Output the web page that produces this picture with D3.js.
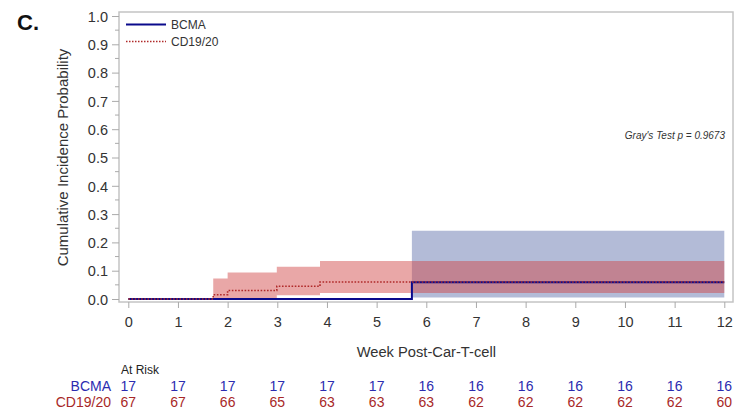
<!DOCTYPE html>
<html>
<head>
<meta charset="utf-8">
<script src="https://cdn.jsdelivr.net/npm/d3@7"></script>
<style>
  body { margin: 0; background: #fff; }
  text { font-family: "Liberation Sans", Arial, sans-serif; }
</style>
</head>
<body>
<svg width="748" height="418"></svg>
<script>
// Data
const weeks = [0, 1, 2, 3, 4, 5, 6, 7, 8, 9, 10, 11, 12];
const yTicks = [0, 0.1, 0.2, 0.3, 0.4, 0.5, 0.6, 0.7, 0.8, 0.9, 1.0];

const bcmaTimes = [0, 5.71, 12];
const bcmaEst = [0, 0.059, 0.059];
const bcmaLower = [0, 0.005, 0.005];
const bcmaUpper = [0, 0.241, 0.241];

const cdTimes = [0, 1.71, 2.0, 2.99, 3.86, 12];
const cdEst = [0, 0.015, 0.030, 0.045, 0.060, 0.060];
const cdLower = [0, 0, 0, 0.013, 0.021, 0.021];
const cdUpper = [0, 0.072, 0.094, 0.114, 0.134, 0.134];

const bcmaRisk = [17, 17, 17, 17, 17, 17, 16, 16, 16, 16, 16, 16, 16];
const cdRisk = [67, 67, 66, 65, 63, 63, 63, 62, 62, 62, 62, 62, 60];

const blue = "#0a0a8c";
const red = "#b02a2a";

const svg = d3.select("svg");
const frame = { left: 119, right: 733, top: 12, bottom: 302 };

const x = d3.scaleLinear().domain([0, 12]).range([128.3, 724.3]);
const y = d3.scaleLinear().domain([0, 1]).range([299, 16]);

// Frame
svg.append("rect")
  .attr("x", frame.left).attr("y", frame.top)
  .attr("width", frame.right - frame.left).attr("height", frame.bottom - frame.top)
  .attr("fill", "none").attr("stroke", "#c4c4c4").attr("stroke-width", 1.5);

// Confidence bands (only where the step has started)
const pts = (t, e, lo, hi) => t.map((d, i) => ({ t: d, e: e[i], lo: lo[i], hi: hi[i] }));
const bcmaPts = pts(bcmaTimes, bcmaEst, bcmaLower, bcmaUpper);
const cdPts = pts(cdTimes, cdEst, cdLower, cdUpper);

const band = d3.area()
  .curve(d3.curveStepAfter)
  .x(d => x(d.t))
  .y0(d => y(d.lo))
  .y1(d => y(d.hi));

svg.append("path")
  .datum(bcmaPts.slice(1))
  .attr("d", band)
  .attr("fill", "#6877b0").attr("fill-opacity", 0.5);

svg.append("path")
  .datum(cdPts.slice(1))
  .attr("d", band)
  .attr("fill", "#d04848").attr("fill-opacity", 0.48);

// Step lines
const step = d3.line()
  .curve(d3.curveStepAfter)
  .x(d => x(d.t))
  .y(d => y(d.e));

svg.append("path")
  .datum(bcmaPts)
  .attr("d", step)
  .attr("fill", "none").attr("stroke", blue).attr("stroke-width", 2);

svg.append("path")
  .datum(cdPts)
  .attr("d", step)
  .attr("fill", "none").attr("stroke", red).attr("stroke-width", 1.6)
  .attr("stroke-dasharray", "1.6,1.6");

// Y axis
const yAxis = d3.axisLeft(y).tickValues(yTicks).tickFormat(d3.format(".1f")).tickSize(7).tickPadding(4);
const gy = svg.append("g").attr("transform", `translate(${frame.left},0)`).call(yAxis);
gy.select(".domain").remove();
gy.selectAll(".tick line").attr("stroke", "#aaa");
gy.selectAll(".tick text").attr("font-size", 14.5).attr("fill", "#333").attr("dy", "0.36em");
// minor ticks
svg.append("g").selectAll("line")
  .data(d3.range(0.05, 1, 0.1))
  .join("line")
  .attr("x1", frame.left - 4).attr("x2", frame.left)
  .attr("y1", d => y(d)).attr("y2", d => y(d))
  .attr("stroke", "#aaa");

// X axis
const xAxis = d3.axisBottom(x).tickValues(weeks).tickSize(6).tickPadding(9);
const gx = svg.append("g").attr("transform", `translate(0,${frame.bottom})`).call(xAxis);
gx.select(".domain").remove();
gx.selectAll(".tick line").attr("stroke", "#aaa");
gx.selectAll(".tick text").attr("font-size", 14.5).attr("fill", "#333");

// Axis titles
svg.append("text")
  .attr("text-anchor", "middle")
  .attr("transform", `translate(68, ${y(0.5)})rotate(-90)`)
  .attr("font-size", 15).attr("fill", "#333")
  .text("Cumulative Incidence Probability");

svg.append("text")
  .attr("x", x(6)).attr("y", 357)
  .attr("text-anchor", "middle")
  .attr("font-size", 14.7).attr("fill", "#333")
  .text("Week Post-Car-T-cell");

// Panel letter
svg.append("text")
  .attr("x", 17).attr("y", 30)
  .attr("font-size", 22).attr("font-weight", "bold").attr("fill", "#111")
  .text("C.");

// Legend
const legend = svg.append("g");
legend.append("line").attr("x1", 126).attr("x2", 166).attr("y1", 24.5).attr("y2", 24.5)
  .attr("stroke", blue).attr("stroke-width", 2);
legend.append("text").attr("x", 171).attr("y", 29).attr("font-size", 12).attr("fill", "#333").text("BCMA");
legend.append("line").attr("x1", 126).attr("x2", 166).attr("y1", 41.5).attr("y2", 41.5)
  .attr("stroke", red).attr("stroke-width", 1.5).attr("stroke-dasharray", "1.5,1.5");
legend.append("text").attr("x", 171).attr("y", 46).attr("font-size", 12).attr("fill", "#333").text("CD19/20");

// Gray's test
svg.append("text")
  .attr("x", 725).attr("y", 139)
  .attr("text-anchor", "end")
  .attr("font-size", 10).attr("font-style", "italic").attr("fill", "#333")
  .text("Gray's Test p = 0.9673");

// At risk table
svg.append("text").attr("x", 121).attr("y", 374).attr("font-size", 12).attr("fill", "#222").text("At Risk");

const riskRows = [
  { label: "BCMA", values: bcmaRisk, color: "#2c2cb0", y: 391 },
  { label: "CD19/20", values: cdRisk, color: "#a82828", y: 407 }
];

riskRows.forEach(row => {
  svg.append("text").attr("x", 111).attr("y", row.y)
    .attr("text-anchor", "end").attr("font-size", 14).attr("fill", row.color)
    .text(row.label);
  svg.append("g").selectAll("text")
    .data(row.values)
    .join("text")
    .attr("x", (d, i) => x(weeks[i]))
    .attr("y", row.y)
    .attr("text-anchor", "middle")
    .attr("font-size", 14).attr("fill", row.color)
    .text(d => d);
});
</script>
</body>
</html>
